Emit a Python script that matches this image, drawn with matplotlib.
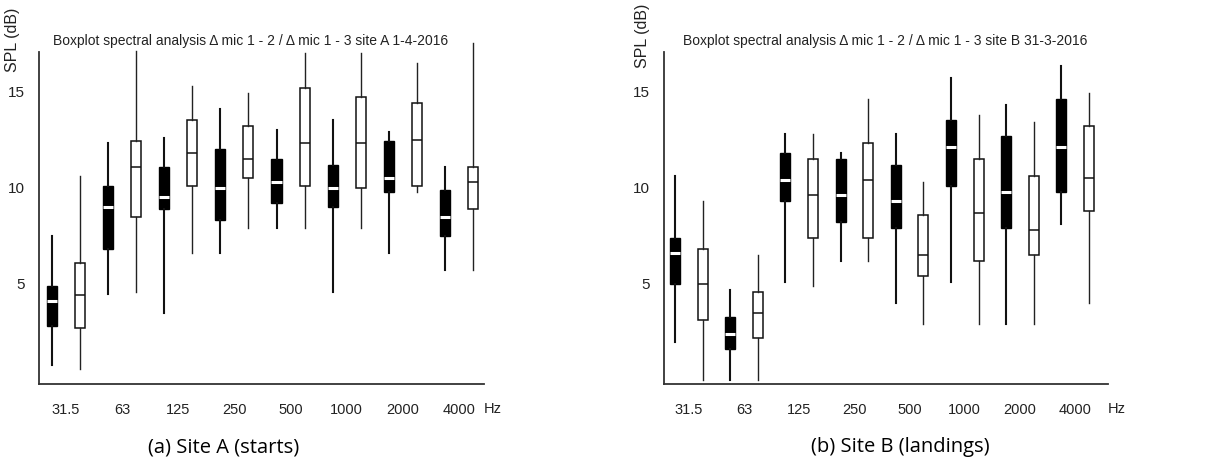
import matplotlib.pyplot as plt

# frequency bands (pairs of boxes: black = mic 1-2, open = mic 1-3)
bands = ['31.5', '63', '125', '250', '500', '1000', '2000', '4000']

# site A (starts), dB
a12_lo  = [0.8, 4.5, 3.5, 6.6, 7.9, 4.6, 6.6, 5.7]
a12_q1  = [2.8, 6.8, 8.9, 8.3, 9.2, 9.0, 9.8, 7.5]
a12_med = [4.1, 9.0, 9.5, 10.0, 10.3, 10.0, 10.5, 8.5]
a12_q3  = [4.9, 10.1, 11.1, 12.0, 11.5, 11.2, 12.4, 9.9]
a12_hi  = [7.5, 12.3, 12.6, 14.1, 13.0, 13.5, 12.9, 11.1]

a13_lo  = [0.6, 4.6, 6.6, 7.9, 7.9, 7.9, 9.8, 5.7]
a13_q1  = [2.7, 8.5, 10.1, 10.5, 10.1, 10.0, 10.1, 8.9]
a13_med = [4.4, 11.1, 11.8, 11.5, 12.3, 12.3, 12.5, 10.3]
a13_q3  = [6.1, 12.4, 13.5, 13.2, 15.2, 14.7, 14.4, 11.1]
a13_hi  = [10.6, 17.1, 15.3, 14.9, 17.0, 17.0, 16.5, 17.5]

# site B (landings)
b12_lo  = [2.0, 0.0, 5.1, 6.2, 4.0, 5.1, 2.9, 8.1]
b12_q1  = [5.0, 1.6, 9.3, 8.2, 7.9, 10.1, 7.9, 9.8]
b12_med = [6.6, 2.4, 10.4, 9.6, 9.3, 12.1, 9.8, 12.1]
b12_q3  = [7.4, 3.3, 11.8, 11.5, 11.2, 13.5, 12.7, 14.6]
b12_hi  = [10.6, 4.7, 12.8, 11.8, 12.8, 15.7, 14.3, 16.3]

b13_lo  = [0.0, 0.0, 4.9, 6.2, 2.9, 2.9, 2.9, 4.0]
b13_q1  = [3.1, 2.2, 7.4, 7.4, 5.4, 6.2, 6.5, 8.8]
b13_med = [5.0, 3.5, 9.6, 10.4, 6.5, 8.7, 7.8, 10.5]
b13_q3  = [6.8, 4.6, 11.5, 12.3, 8.6, 11.5, 10.6, 13.2]
b13_hi  = [9.3, 6.5, 12.8, 14.6, 10.3, 13.8, 13.4, 14.9]

titles = ['Boxplot spectral analysis \u0394 mic 1 - 2 / \u0394 mic 1 - 3 site A 1-4-2016',
          'Boxplot spectral analysis \u0394 mic 1 - 2 / \u0394 mic 1 - 3 site B 31-3-2016']
captions = ['(a) Site A (starts)', '(b) Site B (landings)']

plt.rcParams['font.family'] = ['Liberation Sans', 'DejaVu Sans']
txt = '#222222'


def stats(lo, q1, med, q3, hi):
    return [dict(whislo=l, q1=a, med=m, q3=b, whishi=h, fliers=[])
            for l, a, m, b, h in zip(lo, q1, med, q3, hi)]


def draw_site(ax, s12, s13, xlim, title, title_x):
    pos12 = [2 * i + 1 for i in range(len(bands))]
    pos13 = [2 * i + 2 for i in range(len(bands))]
    # filled boxes (mic 1-2)
    b1 = ax.bxp(s12, positions=pos12, widths=0.36, patch_artist=True, showcaps=False,
                boxprops=dict(facecolor='black', edgecolor='black', linewidth=1),
                medianprops=dict(color='white', linewidth=2.2),
                whiskerprops=dict(color='#111111', linewidth=1.5))
    # open boxes (mic 1-3)
    b2 = ax.bxp(s13, positions=pos13, widths=0.36, patch_artist=True, showcaps=False,
                boxprops=dict(facecolor='white', edgecolor='#111111', linewidth=1.1),
                medianprops=dict(color='#111111', linewidth=1.1),
                whiskerprops=dict(color='#222222', linewidth=1.0))
    for b in (b1, b2):
        for k in b:
            for art in b[k]:
                art.set_clip_on(False)
    ax.set_xlim(*xlim)
    ax.set_ylim(-0.2, 17.05)
    ax.set_xticks([2 * i + 1.5 for i in range(len(bands))])
    ax.set_xticklabels(bands)
    ax.set_yticks([5, 10, 15])
    ax.tick_params(length=0, labelcolor=txt)
    ax.tick_params(axis='x', pad=14, labelsize=10.5)
    ax.tick_params(axis='y', pad=10, labelsize=11)
    for sp in ('top', 'right'):
        ax.spines[sp].set_visible(False)
    for sp in ('left', 'bottom'):
        ax.spines[sp].set_color('#333333')
        ax.spines[sp].set_linewidth(1.3)
    ax.text(title_x, 1.012, title, transform=ax.transAxes, ha='center', va='bottom',
            fontsize=10, color=txt)
    ax.annotate('Hz', xy=(1.0, 0), xycoords='axes fraction', xytext=(6, -18),
                textcoords='offset points', ha='center', va='center', fontsize=10.5, color=txt)


fig = plt.figure(figsize=(12.23, 4.68), dpi=100)
axA = fig.add_axes([39 / 1223, 84 / 468, 445 / 1223, 332 / 468])
axB = fig.add_axes([664 / 1223, 84 / 468, 444 / 1223, 332 / 468])

draw_site(axA, stats(a12_lo, a12_q1, a12_med, a12_q3, a12_hi),
          stats(a13_lo, a13_q1, a13_med, a13_q3, a13_hi), (0.54, 16.39), titles[0], 0.476)
draw_site(axB, stats(b12_lo, b12_q1, b12_med, b12_q3, b12_hi),
          stats(b13_lo, b13_q1, b13_med, b13_q3, b13_hi), (0.60, 16.69), titles[1], 0.498)

fig.text(13 / 1223, 1 - 40 / 468, 'SPL (dB)', rotation=90, ha='center', va='center',
         fontsize=11.5, color=txt)
fig.text(642 / 1223, 1 - 36 / 468, 'SPL (dB)', rotation=90, ha='center', va='center',
         fontsize=11.5, color=txt)

fig.text(224 / 1223, 1 - 447 / 468, captions[0], ha='center', va='center',
         fontsize=14.5, family='Open Sans', color='black')
fig.text(900 / 1223, 1 - 447 / 468, captions[1], ha='center', va='center',
         fontsize=14.5, family='Open Sans', color='black')

fig.savefig('out.png', dpi=100)
